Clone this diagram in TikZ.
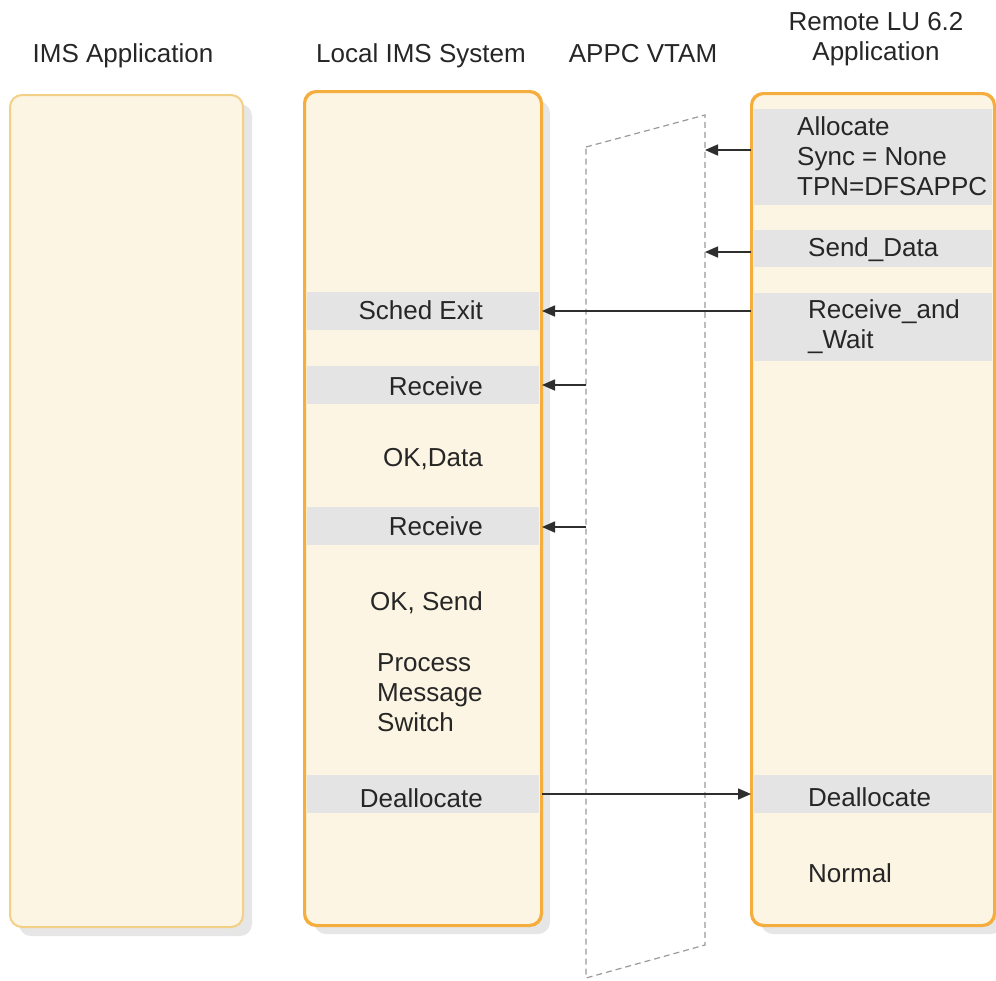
\documentclass[tikz,border=0pt]{standalone}
\usepackage{fontspec}
\setmainfont{Liberation Sans}
\usepackage{tikz}
\usetikzlibrary{positioning,arrows.meta,shadows}
\usepackage{xcolor}
\definecolor{boxfill}{HTML}{FDF5E3}
\definecolor{boxorange}{HTML}{F5AE3D}
\definecolor{boxlight}{HTML}{F4CF86}
\definecolor{bandgray}{HTML}{E4E4E4}
\definecolor{shadowgray}{HTML}{E6E6E6}
\definecolor{vtamgray}{HTML}{9A9A9A}
\definecolor{txtgray}{HTML}{262626}
\definecolor{msggray}{HTML}{2E2E2E}

\begin{document}
\begin{tikzpicture}[
  x=1pt, y=-1pt,
  font=\fontsize{26}{30}\selectfont,
  lane/.style={rectangle, draw=boxorange, line width=2pt, fill=boxfill,
               rounded corners=12pt, inner sep=0pt,
               drop shadow={shadow xshift=9pt, shadow yshift=-9pt,
                            fill=shadowgray, opacity=1}},
  band/.style={rectangle, fill=bandgray, inner sep=0pt, minimum height=38pt},
  lbl/.style={inner sep=0pt, text=txtgray},
  msg/.style={-{Triangle[length=13pt,width=11pt]}, draw=msggray, line width=1.6pt},
  vtam/.style={draw=vtamgray, line width=1.2pt, dash pattern=on 6pt off 4pt},
]
\useasboundingbox (0,0) rectangle (996,980);

% column heads
\node[lbl, anchor=base] (hdrapp) at (123,62) {IMS Application};
\node[lbl, anchor=base] (hdrlocal) at (421,62) {Local IMS System};
\node[lbl, anchor=base] (hdrvtam) at (643,62) {APPC VTAM};
\node[lbl, anchor=base, align=center] (hdrremote) at (876,60) {Remote LU 6.2\\Application};

% lanes
\node[lane, draw=boxlight, minimum width=233pt, minimum height=832pt] (imsapp) at (126.5,511) {};
\node[lane, minimum width=236pt, minimum height=833pt] (localims) at (423,508.5) {};
\node[lane, minimum width=242pt, minimum height=831pt] (remote) at (873,509.5) {};

% APPC VTAM
\draw[vtam] (586,147) -- (705,115) -- (705,945) -- (586,978) -- cycle;

% bands, local side
\node[band, minimum width=232pt] (schedexit) at (423,311) {};
\node[band, minimum width=232pt] (recvA) at (423,385) {};
\node[band, minimum width=232pt] (recvB) at (423,526) {};
\node[band, minimum width=232pt] (dealloc) at (423,794) {};
% bands, remote side
\node[band, minimum width=238pt, minimum height=96pt] (allocate) at (873,157) {};
\node[band, minimum width=238pt, minimum height=37pt] (senddata) at (873,248.5) {};
\node[band, minimum width=238pt, minimum height=68pt] (rcvwait) at (873,327) {};
\node[band, minimum width=238pt] (rdealloc) at (873,794) {};

% redraw lane borders over the bands
\draw[boxorange, line width=2pt, rounded corners=12pt] (localims.south west) rectangle (localims.north east);
\draw[boxorange, line width=2pt, rounded corners=12pt] (remote.south west) rectangle (remote.north east);

% local texts
\node[lbl, anchor=base east] (tschedexit) at (483,319) {Sched Exit};
\node[lbl, anchor=base east] (trecvA) at (483,395) {Receive};
\node[lbl, anchor=base east] (tokdata) at (483,466) {OK,Data};
\node[lbl, anchor=base east] (trecvB) at (483,535) {Receive};
\node[lbl, anchor=base east] (toksend) at (483,610) {OK, Send};
\node[lbl, anchor=base west, align=left] (tprocess) at (377,731) {Process\\Message\\Switch};
\node[lbl, anchor=base east] (tdealloc) at (483,807) {Deallocate};

% remote texts
\node[lbl, anchor=base west, align=left] (tallocate) at (797,195) {Allocate\\Sync = None\\TPN=DFSAPPC};
\node[lbl, anchor=base west] (tsenddata) at (808,256) {Send\_Data};
\node[lbl, anchor=base west, align=left] (trcvwait) at (808,348) {Receive\_and\\\_Wait};
\node[lbl, anchor=base west] (trdealloc) at (808,806) {Deallocate};
\node[lbl, anchor=base west] (tnormal) at (808,882) {Normal};

% messages
\coordinate (vtamR1) at (705,150);
\coordinate (vtamR2) at (705,252);
\coordinate (vtamL1) at (586,385);
\coordinate (vtamL2) at (586,527);
\draw[msg] (remote.west |- vtamR1) -- (vtamR1);
\draw[msg] (remote.west |- vtamR2) -- (vtamR2);
\draw[msg] (remote.west |- schedexit) -- (localims.east |- schedexit);
\draw[msg] (vtamL1) -- (localims.east |- vtamL1);
\draw[msg] (vtamL2) -- (localims.east |- vtamL2);
\draw[msg] (localims.east |- dealloc) -- (remote.west |- dealloc);

\end{tikzpicture}
\end{document}
